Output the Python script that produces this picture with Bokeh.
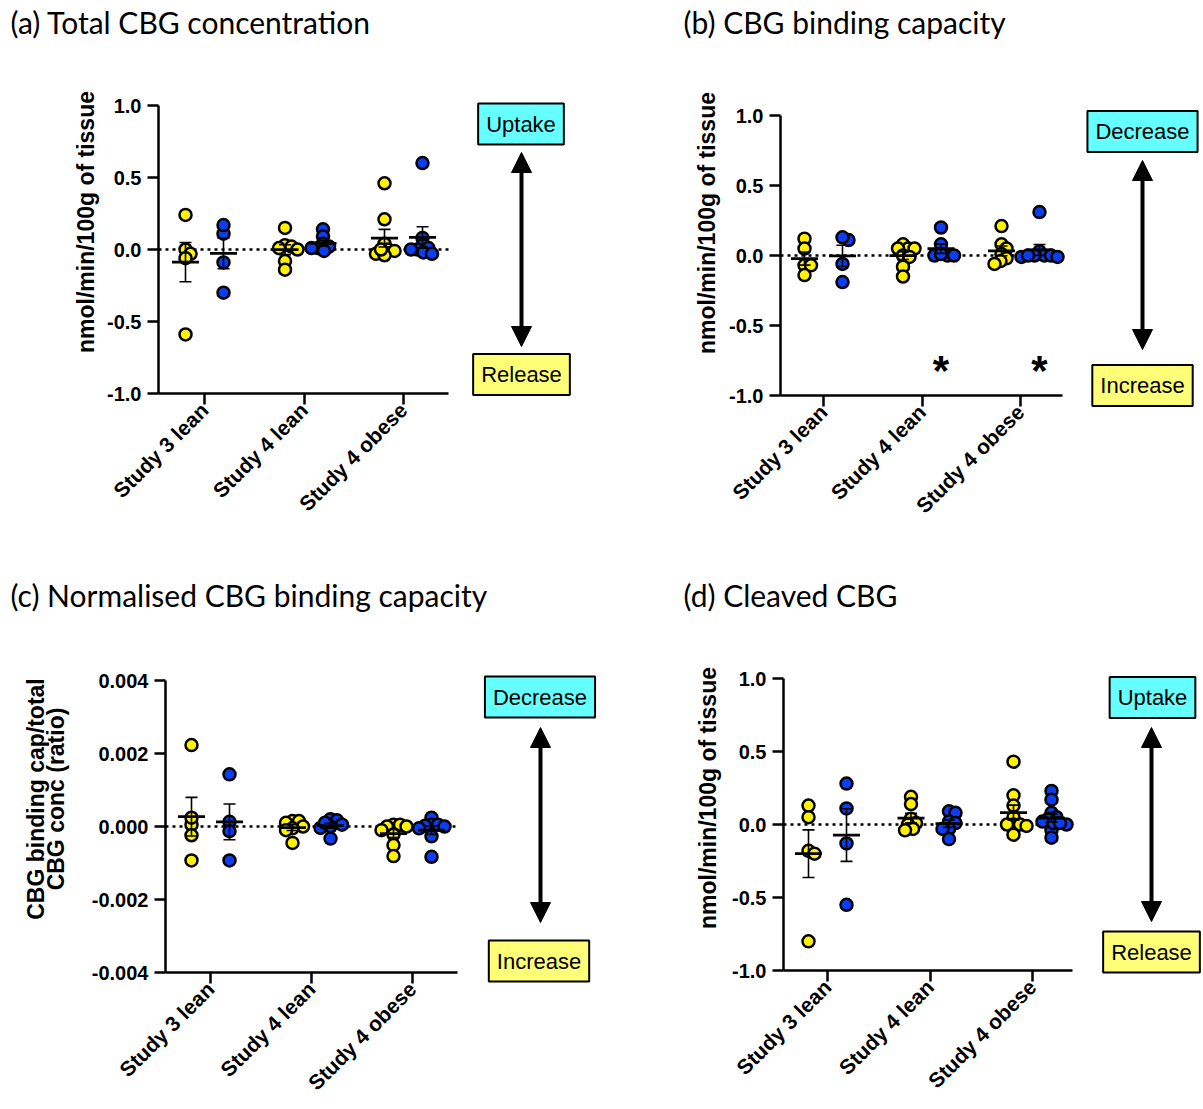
import numpy as np
from bokeh.plotting import figure
from bokeh.layouts import row, column
from bokeh.models import Range1d, FixedTicker, NumeralTickFormatter, Label, Arrow, NormalHead
from bokeh.core.properties import value
from bokeh.embed import file_html
from bokeh.resources import INLINE

# ---------------- data ----------------
categories = ["Study 3 lean", "Study 4 lean", "Study 4 obese"]
rate_ticks = [-1.0, -0.5, 0.0, 0.5, 1.0]
ratio_ticks = [-0.004, -0.002, 0.0, 0.002, 0.004]

# (a) Total CBG concentration  (yellow series, blue series per category)
a_yellow = [[0.24, 0.0, -0.03, -0.06, -0.59],
            [0.15, 0.03, 0.02, 0.01, 0.0, -0.08, -0.14],
            [0.46, 0.21, 0.04, 0.0, -0.01, -0.03, -0.04, 0.0]]
a_blue = [[0.11, 0.17, -0.09, -0.30],
          [0.14, 0.09, 0.04, 0.02, 0.01, 0.01, -0.01],
          [0.60, 0.08, 0.03, 0.01, 0.0, -0.02, -0.03, 0.0]]

# (b) CBG binding capacity
b_yellow = [[0.12, 0.05, -0.07, -0.07, -0.14],
            [0.08, 0.05, 0.05, 0.05, 0.0, -0.01, -0.08, -0.15],
            [0.21, 0.08, 0.05, 0.01, -0.02, -0.04, -0.06]]
b_blue = [[0.11, 0.13, -0.06, -0.19],
          [0.20, 0.08, 0.0, 0.0, 0.0, 0.01],
          [0.31, 0.03, 0.0, 0.0, 0.0, -0.01, -0.01, 0.0]]
b_asterisk_groups = [1, 2]          # category index of the blue groups marked *
b_asterisk_level = -0.78

# (c) Normalised CBG binding capacity
c_yellow = [[0.00223, 0.00005, 0.00024, -0.00024, -0.00093],
            [0.00015, 0.00015, 0.0001, 0.0, -0.00005, -0.0001, -0.00045],
            [0.00005, 0.00005, 0.0, -0.0001, -0.00022, -0.00051, -0.00081, 0.0]]
c_blue = [[0.00143, 0.00013, -0.00013, -0.00093],
          [0.0002, 0.00017, 0.00005, -0.00004, -0.00033, 0.0, 0.0001],
          [0.00024, 0.00005, 0.00005, 0.00002, -0.00005, -0.00027, -0.00083, 0.0]]

# (d) Cleaved CBG
d_yellow = [[0.13, 0.05, -0.18, -0.20, -0.80],
            [0.19, 0.14, 0.04, 0.01, 0.0, -0.03, -0.04],
            [0.43, 0.20, 0.13, 0.05, 0.0, 0.0, -0.01, 0.0, -0.07]]
d_blue = [[0.28, 0.11, -0.13, -0.55],
          [0.09, 0.08, 0.02, 0.01, -0.03, -0.03, -0.10],
          [0.23, 0.17, 0.08, 0.05, 0.04, 0.02, 0.0, -0.04, -0.09, 0.01, 0.01]]

titles = ["(a) Total CBG concentration", "(b) CBG binding capacity",
          "(c) Normalised CBG binding capacity", "(d) Cleaved CBG"]
y_labels = ["nmol/min/100g of tissue", "nmol/min/100g of tissue",
            "CBG binding cap/total\nCBG conc (ratio)", "nmol/min/100g of tissue"]
top_words = ["Uptake", "Decrease", "Decrease", "Uptake"]
bottom_words = ["Release", "Increase", "Increase", "Release"]

# ---------------- styling ----------------
YELLOW = "#FFF200"
BLUE = "#0B3DF2"
CYAN_BOX = "#66FFFF"
YELLOW_BOX = "#FFFF77"
AX_FONT = "Liberation Sans"
TITLE_FONT = "Lato"
W_TOTAL = 1203


def swarm(vals, ppx, ppy, diam=6.5, step=0.5):
    vals = np.asarray(vals, dtype=float)
    order = np.argsort(-vals, kind="stable")
    cands = [0.0]
    k = 1
    while k * step <= 40:
        cands += [k * step, -k * step]
        k += 1
    placed = []
    offs = np.zeros(len(vals))
    for i in order:
        yy = vals[i] * ppy
        chosen = 0.0
        for c in cands:
            if all((c - px) ** 2 + (yy - py) ** 2 >= diam ** 2 for px, py in placed):
                chosen = c
                break
        offs[i] = chosen
        placed.append((chosen, yy))
    return offs / ppx


def pixel_figure(left, top, w, h):
    """A figure with no axes whose data coordinates are page pixels."""
    p = figure(width=w, height=h, output_backend="svg", toolbar_location=None,
               title=None, x_range=Range1d(left, left + w), y_range=Range1d(top + h, top),
               x_axis_location=None, y_axis_location=None, frame_align=False,
               min_border_left=0, min_border_right=0, min_border_top=0, min_border_bottom=0,
               background_fill_color="white", border_fill_color="white")
    p.outline_line_color = None
    p.grid.visible = False
    return p


def make_main(spec, ylabel, yellow, blue, yticks, fmt, asterisks=None, ylabel_lh=1.2,
              ylabel_standoff=8):
    fl, ft, w, h = spec["main"]
    yax = spec["yaxis_px"]
    c1, c3 = spec["cat_px"]
    ybot_px, ytop_px = spec["y_px"]
    ymin, ymax = yticks[0], yticks[-1]
    ppx = (c3 - c1) / 2.0
    ppy = (ybot_px - ytop_px) / (ymax - ymin)

    def X(px):
        return 1 + (px - c1) / ppx

    def Y(py):
        return ymin + (ybot_px - py) / ppy

    p = figure(width=w, height=h, output_backend="svg", toolbar_location=None, title=None,
               x_range=Range1d(X(yax), X(fl + w)),
               y_range=Range1d(ymin, Y(ft)), frame_align=False,
               min_border_left=yax - fl, min_border_right=0,
               min_border_top=0, min_border_bottom=ft + h - ybot_px,
               background_fill_color="white", border_fill_color="white")
    p.outline_line_color = None
    p.grid.visible = False

    for ax in (p.xaxis[0], p.yaxis[0]):
        ax.axis_line_width = 2.5
        ax.major_tick_line_width = 2.5
        ax.major_tick_out = 11
        ax.major_tick_in = 0
        ax.minor_tick_line_color = None
        ax.major_label_text_font = AX_FONT
        ax.major_label_text_font_style = "bold"
        ax.major_label_text_color = "black"
    p.xaxis.ticker = FixedTicker(ticks=[1, 2, 3])
    p.xaxis.major_label_overrides = {i + 1: c for i, c in enumerate(categories)}
    p.xaxis.major_label_orientation = np.pi / 4
    p.xaxis.major_label_text_font_size = "21px"
    p.xaxis.major_label_standoff = 2
    p.xaxis.bounds = (X(yax), X(spec["xend_px"]))

    p.yaxis.ticker = FixedTicker(ticks=yticks)
    p.yaxis.formatter = NumeralTickFormatter(format=fmt)
    p.yaxis.major_label_text_font_size = "20px"
    p.yaxis.major_label_standoff = 6
    p.yaxis.bounds = (ymin, ymax)
    p.yaxis.axis_label = ylabel
    p.yaxis.axis_label_text_font = AX_FONT
    p.yaxis.axis_label_text_font_style = "bold"
    p.yaxis.axis_label_text_font_size = "23px"
    p.yaxis.axis_label_text_color = "black"
    p.yaxis.axis_label_standoff = ylabel_standoff
    p.yaxis.axis_label_text_line_height = ylabel_lh

    # zero reference line
    p.segment(x0=[X(yax)], x1=[X(spec["xend_px"])], y0=[0], y1=[0],
              line_color="black", line_width=2.5, line_dash="3 4")

    gap = 19.0 / ppx
    half_mean = 13.5 / ppx
    half_cap = 6.0 / ppx
    mx0, mx1, my, ex, ey0, ey1, cx0, cx1, cy = [], [], [], [], [], [], [], [], []
    for ci in range(3):
        for vals, off, col in ((yellow[ci], -gap, YELLOW), (blue[ci], gap, BLUE)):
            center = ci + 1 + off
            xs = center + swarm(vals, ppx, ppy)
            p.scatter(x=xs, y=vals, size=12, fill_color=col, line_color="black",
                      line_width=2.5)
            arr = np.asarray(vals, dtype=float)
            m = arr.mean()
            s = arr.std(ddof=1) / np.sqrt(len(arr))
            mx0.append(center - half_mean); mx1.append(center + half_mean); my.append(m)
            ex.append(center); ey0.append(m - s); ey1.append(m + s)
            for v in (m - s, m + s):
                cx0.append(center - half_cap); cx1.append(center + half_cap); cy.append(v)
    p.segment(x0=ex, x1=ex, y0=ey0, y1=ey1, line_color="black", line_width=1.6)
    p.segment(x0=cx0, x1=cx1, y0=cy, y1=cy, line_color="black", line_width=1.6)
    p.segment(x0=mx0, x1=mx1, y0=my, y1=my, line_color="black", line_width=2.8)

    if asterisks is not None:
        groups, level = asterisks
        p.text(x=[g + 1 + gap for g in groups], y=[level] * len(groups),
               text=["*"] * len(groups), text_font=value(AX_FONT),
               text_font_style="bold", text_font_size="42px",
               text_align="center", text_baseline="middle", y_offset=6,
               text_color="black")
    return p


def make_side(spec, top_word, bottom_word):
    sl, st, sw, sh = spec["side"]
    p = pixel_figure(sl, st, sw, sh)
    for (bx, by), word, fill in ((spec["top_box"], top_word, CYAN_BOX),
                                 (spec["bot_box"], bottom_word, YELLOW_BOX)):
        p.add_layout(Label(x=bx, y=by, text=word, text_font=AX_FONT,
                           text_font_size="22px", text_align="center",
                           text_baseline="middle", text_color="black",
                           background_fill_color=fill, border_line_color="black",
                           border_line_width=2, padding=8))
    axp, a0, a1 = spec["arrow"]
    p.add_layout(Arrow(start=NormalHead(size=20, fill_color="black", line_color="black"),
                       end=NormalHead(size=20, fill_color="black", line_color="black"),
                       x_start=axp, y_start=a0, x_end=axp, y_end=a1,
                       line_width=4, line_color="black"))
    return p


def make_title_strip(top, h, items):
    p = pixel_figure(0, top, W_TOTAL, h)
    p.text(x=[it[1] for it in items], y=[it[2] for it in items],
           text=[it[0] for it in items], text_font=value(TITLE_FONT),
           text_font_size="30px", text_align="left", text_baseline="middle",
           text_color="black")
    return p


specs = [
    dict(main=(0, 50, 460, 518), yaxis_px=158, cat_px=(204, 403), y_px=(393, 105),
         xend_px=448, side=(460, 50, 208, 518), top_box=(520.5, 123.5),
         bot_box=(521, 374), arrow=(521, 152, 346)),
    dict(main=(668, 50, 404, 518), yaxis_px=780, cat_px=(823, 1020), y_px=(395, 115),
         xend_px=1062, side=(1072, 50, 131, 518), top_box=(1142, 131),
         bot_box=(1142, 385), arrow=(1142, 160, 349)),
    dict(main=(0, 625, 470, 484), yaxis_px=165, cat_px=(210, 412), y_px=(972, 680),
         xend_px=457, side=(470, 625, 198, 484), top_box=(539.5, 696.5),
         bot_box=(538.5, 960.5), arrow=(540, 727, 922)),
    dict(main=(668, 625, 412, 484), yaxis_px=783, cat_px=(827, 1032), y_px=(970, 678),
         xend_px=1072, side=(1080, 625, 123, 484), top_box=(1152, 697),
         bot_box=(1151, 951.5), arrow=(1151, 727, 921)),
]

title_top = make_title_strip(0, 50, [(titles[0], 10, 21), (titles[1], 683, 21)])
title_bot = make_title_strip(568, 57, [(titles[2], 10, 594), (titles[3], 683, 594)])

pa = make_main(specs[0], y_labels[0], a_yellow, a_blue, rate_ticks, "0.0", ylabel_standoff=5)
pb = make_main(specs[1], y_labels[1], b_yellow, b_blue, rate_ticks, "0.0",
               asterisks=(b_asterisk_groups, b_asterisk_level), ylabel_standoff=6)
pc = make_main(specs[2], y_labels[2], c_yellow, c_blue, ratio_ticks, "0.000",
               ylabel_lh=0.78, ylabel_standoff=20)
pd_ = make_main(specs[3], y_labels[3], d_yellow, d_blue, rate_ticks, "0.0",
                ylabel_standoff=8)

sa = make_side(specs[0], top_words[0], bottom_words[0])
sb = make_side(specs[1], top_words[1], bottom_words[1])
sc = make_side(specs[2], top_words[2], bottom_words[2])
sd = make_side(specs[3], top_words[3], bottom_words[3])

layout = column(title_top, row(pa, sa, pb, sb), title_bot, row(pc, sc, pd_, sd))
open("out.html", "w").write(file_html(layout, INLINE))
